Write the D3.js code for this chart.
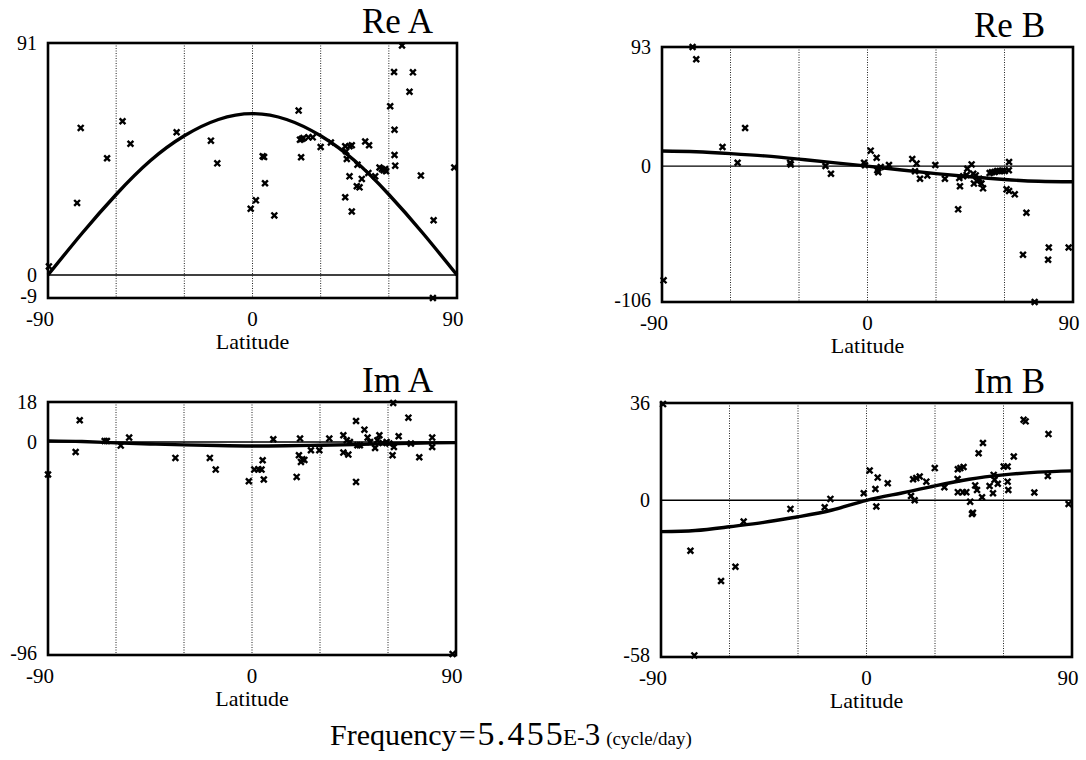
<!DOCTYPE html>
<html>
<head>
<meta charset="utf-8">
<script src="https://cdn.jsdelivr.net/npm/d3@7"></script>
<style>
  html, body { margin: 0; padding: 0; background: #fff; }
  svg { display: block; }
</style>
</head>
<body>
<svg id="chart" width="1086" height="760" font-family="'Liberation Serif', 'DejaVu Serif', serif"></svg>
<script>
// ---------------- data ----------------
const xTicks = [-90, 0, 90];
const gridLats = [-60, -30, 0, 30, 60];
const fitLat = [-90, -75, -60, -45, -30, -15, 0, 15, 30, 45, 60, 75, 90];

// Re A
const reALat = [-89.6,-77.2,-75.6,-64.0,-57.2,-53.7,-33.4,-18.3,-15.5,-0.8,1.5,4.5,5.1,5.5,9.6,20.3,20.9,21.7,21.4,22.4,24.6,26.5,30.0,34.5,40.8,41.2,41.5,42.7,43.7,40.8,42.7,43.7,46.2,45.9,47.1,48.1,49.6,51.3,51.0,54.0,55.9,56.9,57.7,58.4,58.8,60.6,62.3,62.5,62.5,62.8,65.8,69.1,70.6,74.1,79.7,79.4,88.8];
const reAVal = [3.4,28.3,57.7,45.8,60.3,51.5,56.0,52.7,43.8,26.0,29.3,46.6,46.3,36.0,23.4,64.5,53.1,53.4,46.2,53.7,54.0,54.0,50.2,52.0,50.5,48.5,45.5,50.5,50.9,30.5,38.7,24.9,43.3,34.8,34.4,37.7,52.4,50.9,40.0,38.7,42.2,41.6,41.1,41.6,40.7,66.2,79.6,57.0,47.1,42.9,90.0,71.9,79.5,39.0,21.5,-9.0,42.2];
const reAFit = [0,16.4,31.6,44.8,54.6,61.0,63.3,61.0,54.6,44.8,31.6,16.4,0];
const reAY = [-9, 0, 91];

// Re B
const reBLat = [-89.3,-76.6,-75.0,-63.5,-56.9,-53.6,-33.9,-33.6,-18.4,-16.0,-1.5,-1.1,1.4,4.0,4.3,4.7,5.8,9.4,19.6,20.8,21.5,23.0,26.2,29.7,33.9,39.7,40.2,40.5,41.9,43.4,43.7,45.6,46.3,46.6,47.4,48.0,48.9,49.9,50.6,53.5,54.5,55.7,56.8,57.9,59.1,60.1,60.9,62.0,61.9,62.0,64.5,68.1,69.6,73.2,79.1,79.4,88.1];
const reBVal = [-89.1,93,83.4,15.0,2.7,29.8,2.7,1.4,0.1,-5.9,2.7,0.7,12.1,6.6,-3.2,-4.8,-0.6,0.9,5.6,-4.0,2.0,-9.8,-7.2,0.9,-9.8,-33.7,-9.2,-15.7,-7.9,-6.9,-2.0,1.4,-5.9,-13.6,-7.2,-11.8,-9.8,-13.6,-17.3,-5.3,-4.8,-4.5,-3.8,-3.8,-3.5,-3.8,-18.1,3.3,-3.2,-19.4,-22.0,-69.1,-36.3,-106,-73.0,-63.5,-63.5];
const reBFit = [11.8,11.2,9.8,8.0,5.5,2.8,0,-3.0,-5.8,-8.3,-10.4,-11.8,-12.2];
const reBY = [-106, 0, 93];

// Im A
const imALat = [-90,-77.8,-76.0,-65.0,-64.0,-57.9,-54.2,-33.8,-18.6,-16.0,-1.4,1.0,2.8,4.2,4.7,5.2,9.4,19.7,20.7,21.2,21.6,22.2,23.1,26.0,29.7,34.1,40.3,40.3,41.8,42.5,43.2,45.9,45.9,46.5,47.6,49.6,51.0,52.1,54.3,56.2,55.3,57.6,59.4,60.6,62.3,62.6,62.0,64.7,69.0,70.1,73.8,79.5,79.5,88.5];
const imAVal = [-14.7,-4.5,9.75,0.45,0.45,-1.65,1.95,-7.2,-7.2,-12.45,-17.7,-12.45,-12.3,-12.45,-8.25,-16.95,1.2,-15.75,-6.0,1.5,-9.0,-7.8,-8.1,-3.75,-3.75,1.5,3.0,-4.8,0.75,-5.7,0.0,-18.0,9.45,-1.5,-1.5,5.55,1.95,0.0,-2.7,3.0,0.75,-0.45,0.0,-0.75,17.55,-2.25,-6.0,2.55,10.95,-0.75,-6.9,1.95,-2.25,-95.6];
const imAFit = [0.5,0.2,-0.4,-0.9,-1.3,-1.6,-1.8,-1.7,-1.5,-1.2,-0.8,-0.5,-0.3];
const imAY = [-96, 0, 18];

// Im B
const imBLat = [-89.1,-77.1,-75.4,-63.7,-57.4,-53.8,-33.3,-18.3,-15.8,-1.2,1.4,3.9,4.3,4.9,9.3,19.5,20.4,21.1,21.8,23.3,26.2,29.9,34.1,39.9,40.0,41.1,42.5,40.0,42.2,43.7,45.4,46.2,46.6,47.6,48.4,49.1,50.6,51.0,53.9,55.4,55.7,56.1,57.5,60.1,61.8,61.8,62.1,64.5,68.8,69.7,73.5,79.4,79.7,88.5];
const imBVal = [35.6,-18.7,-57.4,-29.9,-24.6,-7.9,-3.2,-2.6,0.5,2.6,11.0,4.2,-2.3,8.4,6.3,1.6,7.8,0.0,8.2,8.8,6.9,11.9,4.8,7.9,11.5,11.9,12.3,3.0,3.0,3.0,-0.5,-5.1,-4.6,5.5,3.8,17.4,1.1,21.2,5.3,2.6,9.4,7.6,6.1,12.5,12.5,6.9,3.8,16.2,29.8,29.2,2.9,9.0,24.5,-1.4];
const imBFit = [-11.6,-11.2,-9.8,-8.2,-6.1,-3.6,0,2.6,5.3,7.8,9.4,10.4,10.9];
const imBY = [-58, 0, 36];

// ---------------- layout ----------------
const FONT = "'Liberation Serif', 'DejaVu Serif', serif";
const panels = [
  { title: "Re A", lat: reALat, val: reAVal, fit: reAFit, yt: reAY, box: [48, 43, 457, 298] },
  { title: "Re B", lat: reBLat, val: reBVal, fit: reBFit, yt: reBY, box: [662, 47, 1073, 302] },
  { title: "Im A", lat: imALat, val: imAVal, fit: imAFit, yt: imAY, box: [48, 402, 456, 655] },
  { title: "Im B", lat: imBLat, val: imBVal, fit: imBFit, yt: imBY, box: [661, 403, 1072, 657] }
];
const titleRight = [433, 1045, 433, 1045];

const svg = d3.select("#chart");

panels.forEach((p, i) => {
  const [x0, y0, x1, y1] = p.box;
  const x = d3.scaleLinear().domain([-90, 90]).range([x0, x1]);
  const y = d3.scaleLinear().domain([p.yt[0], p.yt[2]]).range([y1, y0]);
  const g = svg.append("g");

  // dotted grid lines
  g.selectAll("line.grid").data(gridLats).join("line")
    .attr("x1", d => x(d)).attr("x2", d => x(d))
    .attr("y1", y0).attr("y2", y1)
    .attr("stroke", "#222").attr("stroke-width", 1)
    .attr("stroke-dasharray", "1,1.5");

  // zero line
  g.append("line")
    .attr("x1", x0).attr("x2", x1)
    .attr("y1", y(0)).attr("y2", y(0))
    .attr("stroke", "#000").attr("stroke-width", 1.4);

  // fit curve
  const line = d3.line().x((d, k) => x(fitLat[k])).y(d => y(d)).curve(d3.curveNatural);
  g.append("path").datum(p.fit)
    .attr("d", line).attr("fill", "none")
    .attr("stroke", "#000").attr("stroke-width", 3.4);

  // frame
  g.append("rect")
    .attr("x", x0).attr("y", y0).attr("width", x1 - x0).attr("height", y1 - y0)
    .attr("fill", "none").attr("stroke", "#000").attr("stroke-width", 2.6);

  // data markers (x)
  const pts = p.lat.map((la, k) => [la, p.val[k]]);
  g.selectAll("path.pt").data(pts).join("path")
    .attr("transform", d => `translate(${x(d[0])},${y(d[1])})`)
    .attr("d", "M-2.9,-2.9L2.9,2.9M-2.9,2.9L2.9,-2.9")
    .attr("stroke", "#000").attr("stroke-width", 2.4).attr("fill", "none");

  // y tick labels
  g.selectAll("text.yt").data(p.yt).join("text")
    .attr("font-family", FONT)
    .attr("x", x0 - 11).attr("y", d => y(d) - (d === p.yt[0] ? 2 : 0))
    .attr("dy", "0.33em")
    .attr("text-anchor", "end")
    .attr("font-size", 20)
    .text(d => d);

  // x tick labels
  g.selectAll("text.xt").data(xTicks).join("text")
    .attr("font-family", FONT)
    .attr("x", d => x(d) + (d < 0 ? -8 : d > 0 ? -4 : 0))
    .attr("y", y1 + 28)
    .attr("text-anchor", "middle")
    .attr("font-size", 21)
    .text(d => d);

  // axis title
  g.append("text")
    .attr("font-family", FONT)
    .attr("x", (x0 + x1) / 2).attr("y", y1 + 51)
    .attr("text-anchor", "middle")
    .attr("font-size", 22)
    .text("Latitude");

  // panel title
  g.append("text")
    .attr("font-family", FONT)
    .attr("x", titleRight[i]).attr("y", y0 - 10)
    .attr("text-anchor", "end")
    .attr("font-size", 35)
    .text(p.title);
});

// footer
const ft = svg.append("text").attr("font-family", FONT).attr("x", 330).attr("y", 745);
ft.append("tspan").attr("font-size", 30).text("Frequency");
ft.append("tspan").attr("font-size", 30).attr("dx", 2).text("=");
ft.append("tspan").attr("font-size", 34).attr("dx", 2).attr("letter-spacing", 2.2).text("5.455");
ft.append("tspan").attr("font-size", 23).attr("dx", -2).text("E-");
ft.append("tspan").attr("font-size", 31).text("3");
ft.append("tspan").attr("font-size", 19).attr("dx", 6).text("(cycle/day)");
</script>
</body>
</html>
